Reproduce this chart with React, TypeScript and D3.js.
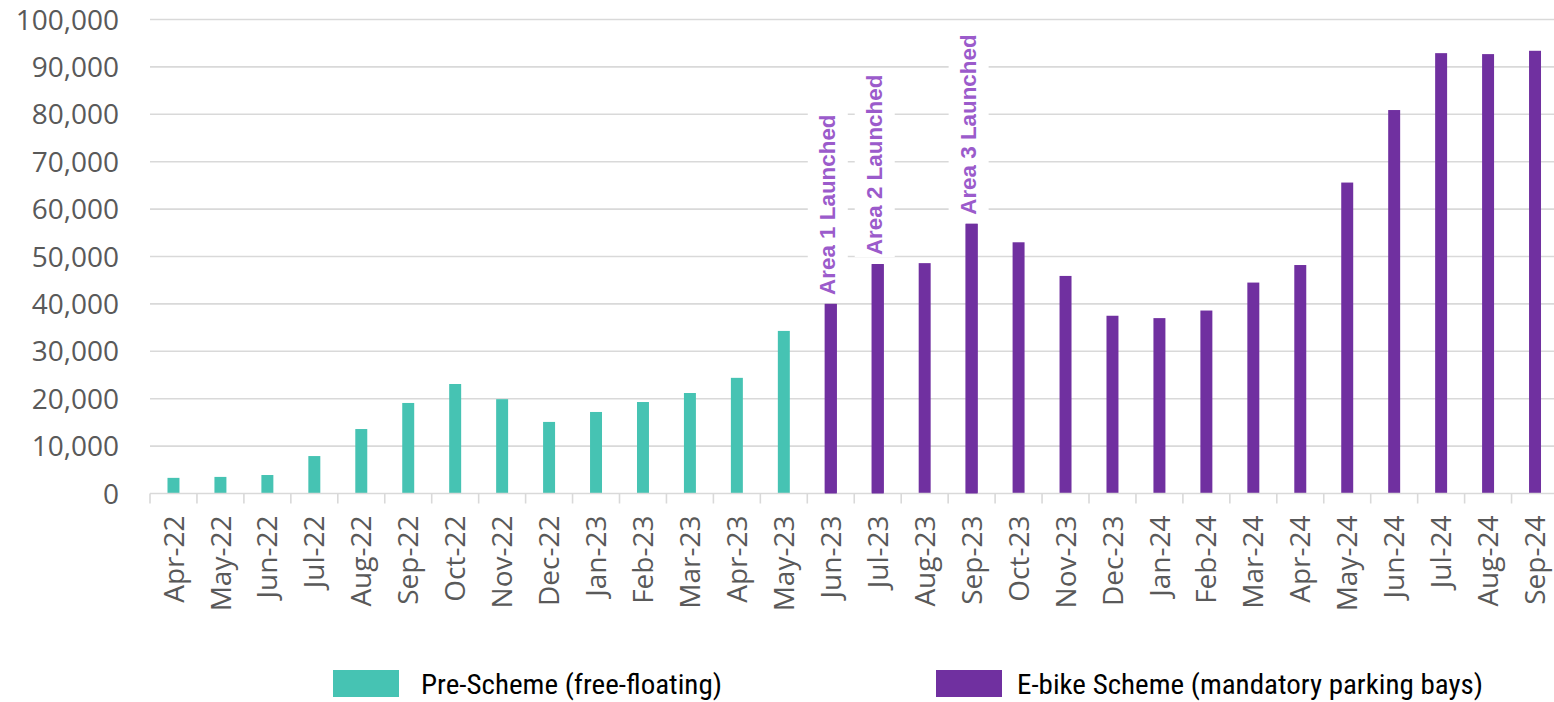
import React from "react";
import * as d3 from "d3";

const months = [
  "Apr-22","May-22","Jun-22","Jul-22","Aug-22","Sep-22","Oct-22","Nov-22","Dec-22",
  "Jan-23","Feb-23","Mar-23","Apr-23","May-23","Jun-23","Jul-23","Aug-23","Sep-23",
  "Oct-23","Nov-23","Dec-23","Jan-24","Feb-24","Mar-24","Apr-24","May-24","Jun-24",
  "Jul-24","Aug-24","Sep-24",
];
const trips = [
  3300, 3500, 3900, 7900, 13600, 19100, 23100, 19900, 15100,
  17200, 19300, 21200, 24400, 34300, 40000, 48400, 48600, 56900,
  53000, 45900, 37500, 37000, 38600, 44500, 48200, 65600, 80900,
  92900, 92700, 93400,
];
// scheme: months before schemeStart are pre-scheme
const schemeStart = "Jun-23";
const seriesNames = ["Pre-Scheme (free-floating)", "E-bike Scheme (mandatory parking bays)"];
const seriesColors = ["#46C3B3", "#7030A0"];
const annotations = [
  { month: "Jun-23", text: "Area 1 Launched" },
  { month: "Jul-23", text: "Area 2 Launched" },
  { month: "Sep-23", text: "Area 3 Launched" },
];
const yTicks = [0, 10000, 20000, 30000, 40000, 50000, 60000, 70000, 80000, 90000, 100000];

const W = 1554, H = 702;
const left = 150, right = 1558.5, top = 19.5, bottom = 493.5;

export default function App() {
  const x = d3.scaleBand<string>().domain(months).range([left, right]).paddingInner(0.745).paddingOuter(0.3725);
  const xb = d3.scaleBand<string>().domain(months).range([left, right]);
  const y = d3.scaleLinear().domain([0, 100000]).range([bottom, top]);
  const fmt = d3.format(",");
  const startIdx = months.indexOf(schemeStart);
  const tickFont = "'Open Sans', sans-serif";
  const legend = [
    { x: 333, tx: 421, len: 301 },
    { x: 936, tx: 1017, len: 466 },
  ];

  return (
    <svg width={W} height={H} style={{ position: "absolute", left: 0, top: 0, background: "#fff" }}>
      {yTicks.map((t) => (
        <g key={t}>
          {t > 0 && <line x1={left} x2={right + 2} y1={y(t)} y2={y(t)} stroke="#D9D9D9" strokeWidth={1.6} />}
          <text x={119} y={y(t)} dy="0.36em" textAnchor="end" fontFamily={tickFont} fontSize={28} fill="#595959">
            {fmt(t)}
          </text>
        </g>
      ))}
      {months.map((m, i) => {
        const v = trips[i];
        return (
          <rect key={m} x={x(m)} y={y(v)} width={x.bandwidth()} height={y(0) - y(v)}
            fill={seriesColors[i >= startIdx ? 1 : 0]} />
        );
      })}
      <line x1={left} x2={right} y1={bottom} y2={bottom} stroke="#D9D9D9" strokeWidth={1.6} />
      {months.concat(["__end"]).map((m, i) => {
        const xx = i < months.length ? (xb(m) as number) : right;
        return <line key={"t" + i} x1={xx} x2={xx} y1={bottom} y2={bottom + 10} stroke="#D9D9D9" strokeWidth={1.6} />;
      })}
      {months.map((m) => {
        const cx = (xb(m) as number) + xb.bandwidth() / 2;
        return (
          <text key={"l" + m} transform={`translate(${cx},${bottom + 22}) rotate(-90)`} dy="0.36em"
            textAnchor="end" fontFamily={tickFont} fontSize={28} fill="#595959">
            {m}
          </text>
        );
      })}
      {annotations.map((a) => {
        const i = months.indexOf(a.month);
        const cx = (xb(a.month) as number) + xb.bandwidth() / 2;
        const yTop = y(trips[i]) - 9;
        return (
          <g key={a.text}>
            <rect x={cx - 23} y={yTop - 184} width={40} height={186} fill="#fff" />
            <text transform={`translate(${cx + 4},${yTop}) rotate(-90)`} textAnchor="start"
              fontFamily="'Liberation Sans', Arial, sans-serif" fontWeight="bold" fontSize={22.4} fill="#9B5BCB">
              {a.text}
            </text>
          </g>
        );
      })}
      {annotations.map((a) => {
        const i = months.indexOf(a.month);
        return (
          <rect key={"b" + a.month} x={x(a.month)} y={y(trips[i])} width={x.bandwidth()} height={y(0) - y(trips[i])}
            fill={seriesColors[1]} />
        );
      })}
      {seriesNames.map((s, k) => (
        <g key={s}>
          <rect x={legend[k].x} y={670} width={66} height={27} fill={seriesColors[k]} />
          <text x={legend[k].tx} y={694} fontFamily="'Liberation Sans Narrow', 'Roboto Condensed', sans-serif"
            fontSize={28} fill="#000" textLength={legend[k].len} lengthAdjust="spacingAndGlyphs">
            {s}
          </text>
        </g>
      ))}
    </svg>
  );
}
